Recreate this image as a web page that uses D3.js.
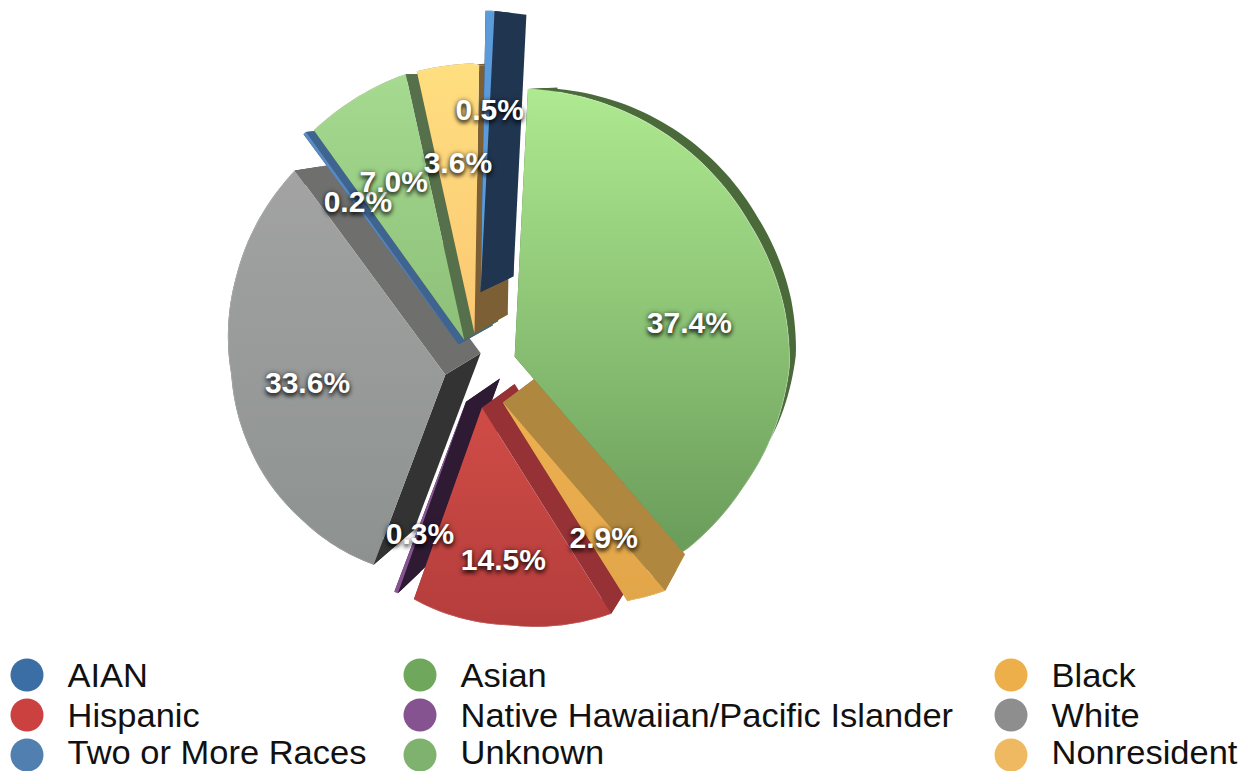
<!DOCTYPE html>
<html>
<head>
<meta charset="utf-8">
<script src="https://cdn.jsdelivr.net/npm/d3@7"></script>
<style>
html,body{margin:0;padding:0;background:#fff;overflow:hidden}
svg{display:block}
.lab{font-family:"Liberation Sans",Arial,sans-serif;font-weight:bold;font-size:30px;fill:#fff;text-anchor:middle;dominant-baseline:central;text-shadow:0 3px 4px rgba(0,0,0,.8),0 0 5px rgba(0,0,0,.5)}
.leg{font-family:"Liberation Sans",Arial,sans-serif;font-size:33px;fill:#111}
</style>
</head>
<body>
<svg id="c" width="1253" height="771"></svg>
<script>
// Data
const categories = ["AIAN","Asian","Black","Hispanic","Native Hawaiian/Pacific Islander","White","Two or More Races","Unknown","Nonresident"];
const percents = [0.5,37.4,2.9,14.5,0.3,33.6,0.2,7.0,3.6];
const labels = ["0.5%","37.4%","2.9%","14.5%","0.3%","33.6%","0.2%","7.0%","3.6%"];
const legendColors = ["#3b6ea5","#6fa75d","#edaf4a","#cb413f","#845390","#8e8e8e","#517fb0","#80b26f","#efb962"];
// Styling
const explode = [78,39,41,38,34,33,32,33,37];
const radiusBoost = [1.05,1,0.965,1,1,1,1.03,1.015,1];
const labelTurn = [0,8,1,-1,0,6,2,0,-1];
const labelFrac = [0.655,0.645,0.68,0.69,0.685,0.665,0.685,0.668,0.645];
const topLight = ["#5b9bdc","#aeea90","#edb050","#d04c46","#8a5a96","#a2a3a2","#5a8cc4","#a6da90","#ffdf80"];
const topDark  = ["#5b9bdc","#6a9c5a","#e2a64a","#b43d3c","#845390","#8d9291","#5080b5","#8dbf78","#fbc772"];
const wallStart= ["#203550","#4a6a3a","#b0873f","#963235","#2e1a33","#333333","#3f6490","#55704a","#7d5f35"];
const wallEnd  = ["#203550","#4a6a3a","#b0873f","#963235","#2e1a33","#6f706e","#3f6490","#55704a","#7d5f35"];
const paintOrder = [5,6,7,8,4,3,2,0,1];
// Apparent radius of the tilted pie by clockwise angle from the top (degrees)
const profileAngles = [0,60,80,92,105,120,139,147,173,200,225,250,270,295,324,347,360];
const profileRadii  = [268,270,274,275,270,263,258,244,219,203,204,209,214,231,254,268,270];
// Apparent angle after the tilt, by true angle (degrees)
const warpAngles = [0,137.7,148,200,323,348.5,361];
const warpTo     = [0,139.5,148,199.5,324.5,348,361];

const svg = d3.select("#c");
const center = [478,370], labelShift = [3,2];
const vanish = [950,67], depth = 0.07, rimDepth = 0.04;
const deg = Math.PI/180;
const radiusAt = d3.scaleLinear().domain(profileAngles).range(profileRadii).clamp(true);
const warp = d3.scaleLinear().domain(warpAngles).range(warpTo);

const pie = d3.pie().sort(null).startAngle(1*deg).endAngle(361*deg);
const arcs = pie(percents);

const dirOf = a => [Math.sin(a),-Math.cos(a)];
const norm = a => ((a/deg)%360+360)%360;
function proj(tip,a0,boost){
  const a=warp(a0/deg)*deg;
  const [dx,dy]=dirOf(a), r=radiusAt(norm(a))*boost;
  return [tip[0]+dx*r, tip[1]+dy*r];
}
const back = (p,k=depth) => [p[0]+k*(vanish[0]-p[0]), p[1]+k*(vanish[1]-p[1])];
const poly = pts => d3.line()(pts)+"Z";

const defs = svg.append("defs");
arcs.forEach((d,i)=>{
  const g=defs.append("linearGradient").attr("id","g"+i).attr("x1",0).attr("y1",0).attr("x2",0).attr("y2",1);
  g.append("stop").attr("offset",0).attr("stop-color",topLight[i]);
  g.append("stop").attr("offset",1).attr("stop-color",topDark[i]);
});

const tipOf = (d,i) => {
  const [mx,my]=dirOf((d.startAngle+d.endAngle)/2);
  return [center[0]+explode[i]*mx, center[1]+explode[i]*my];
};

paintOrder.forEach(i=>{
  const d=arcs[i], tip=tipOf(d,i);
  const n=Math.max(2,Math.ceil((d.endAngle-d.startAngle)/(1.5*deg)));
  const outer=d3.range(n+1).map(k=>proj(tip,d.startAngle+(d.endAngle-d.startAngle)*k/n,radiusBoost[i]));
  const g=svg.append("g");
  // outer rim
  g.append("path").attr("d",poly(outer.concat(outer.map(p=>back(p,rimDepth)).reverse()))).attr("fill",wallStart[i]);
  // radial walls
  const s=outer[0], e=outer[n];
  g.append("path").attr("d",poly([tip,s,back(s),back(tip)])).attr("fill",wallStart[i]);
  g.append("path").attr("d",poly([tip,e,back(e),back(tip)])).attr("fill",wallEnd[i]);
  // top face
  g.append("path").attr("d",poly([tip].concat(outer))).attr("fill",`url(#g${i})`);
  // soft bevel along the rim
  g.append("path").attr("d",d3.line().curve(d3.curveBasis)(outer)).attr("fill","none").attr("stroke","rgba(255,255,255,.22)").attr("stroke-width",1.2);
});

arcs.forEach((d,i)=>{
  const mid=(d.startAngle+d.endAngle)/2, tip=tipOf(d,i);
  const [dx,dy]=dirOf(mid+labelTurn[i]*deg), r=radiusAt(norm(mid))*radiusBoost[i]*labelFrac[i];
  svg.append("text").attr("class","lab").attr("x",tip[0]+dx*r+labelShift[0]).attr("y",tip[1]+dy*r+labelShift[1]).text(labels[i]);
});

// Legend
const colX = d3.scaleOrdinal().domain([0,1,2]).range([27,420,1011]);
const rowY = d3.scalePoint().domain([0,1,2]).range([675,755]);
categories.forEach((c,i)=>{
  const cx=colX(i%3), cy=rowY(Math.floor(i/3));
  svg.append("circle").attr("cx",cx).attr("cy",cy).attr("r",16.5).attr("fill",legendColors[i]);
  svg.append("text").attr("class","leg")
     .attr("transform",`translate(${cx+40.5},${Math.min(cy+12,763.9)}) scale(1.045,1)`).text(c);
});
</script>
</body>
</html>
